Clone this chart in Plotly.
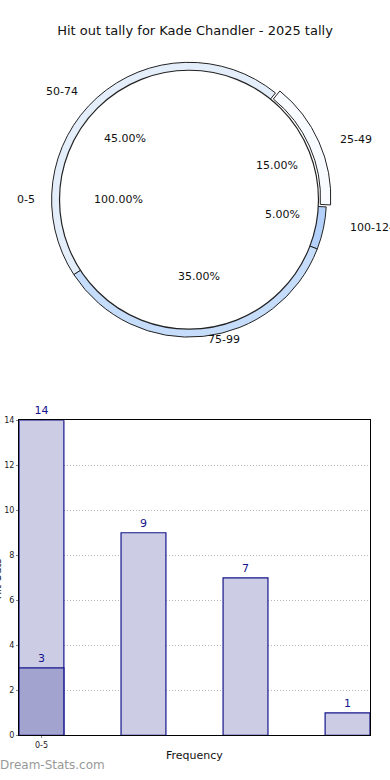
import math
import plotly.graph_objects as go

# ---------------- data ----------------
title = "Hit out tally for Kade Chandler - 2025 tally"
ring_labels = ["25-49", "100-124", "75-99", "50-74"]
ring_values = [3, 1, 7, 9]
ring_colors = ["#f8fbff", "#b3d1fb", "#c5dcfb", "#e4edfa"]
inner_labels = ["0-5"]
inner_values = [1]

bar_cats = ["0-5", "50-74", "75-99", "100-124"]
bar_values = [14, 9, 7, 1]
overlay_values = [3, None, None, None]
tick_labels = ["0-5"]

W, H = 390, 780
CX, CY, R, R_IN = 189, 198, 139, 131
LY = 196  # vertical centre used for the ring's text labels
ROT = 39
PULL = 0.035


def px(x):
    return x / W


def py(y):
    return 1 - y / H


fig = go.Figure()

# shadow
fig.add_trace(go.Pie(
    values=[1], labels=["shadow"], marker=dict(colors=["#9a9a9a"], line=dict(width=0)),
    textinfo="none", hoverinfo="skip", sort=False, showlegend=False,
    domain=dict(x=[px(CX - R_IN - 2), px(CX + R_IN - 2)], y=[py(CY + R_IN + 3), py(CY - R_IN + 3)]),
))

# outer ring
RD = R * (1 + PULL)
fig.add_trace(go.Pie(
    values=ring_values, labels=ring_labels, hole=0.925, sort=False, direction="clockwise",
    rotation=ROT, pull=[PULL, 0, 0, 0],
    marker=dict(colors=ring_colors, line=dict(color="#222222", width=1)),
    textinfo="none", hoverinfo="label+percent", showlegend=False,
    domain=dict(x=[px(CX - RD), px(CX + RD)], y=[py(CY + RD), py(CY - RD)]),
))

# inner pie
fig.add_trace(go.Pie(
    values=inner_values, labels=inner_labels, sort=False,
    marker=dict(colors=["#ffffff"], line=dict(color="#222222", width=1.2)),
    textinfo="none", hoverinfo="label+percent", showlegend=False,
    domain=dict(x=[px(CX - R_IN), px(CX + R_IN)], y=[py(CY + R_IN), py(CY - R_IN)]),
))

annotations = []
font = dict(family="DejaVu Sans", size=11, color="#111111")


def ann(x, y, text, xanchor="center", **kw):
    d = dict(x=px(x), y=py(y), xref="paper", yref="paper", text=text, showarrow=False,
             xanchor=xanchor, yanchor="middle", font=kw.pop("font", font))
    d.update(kw)
    annotations.append(d)


total = sum(ring_values)
cum = 0
for lab, v in zip(ring_labels, ring_values):
    th = math.radians(ROT + 360 * (cum + v / 2) / total)
    cum += v
    s, c = math.sin(th), math.cos(th)
    ann(CX + 0.69 * R * s, LY - 0.58 * R * c, f"{100 * v / total:.2f}%")
    ann(CX + 1.17 * R * s, LY - 1.04 * R * c, lab, xanchor="left" if s > 0 else "right")

itot = sum(inner_values)
for lab, v in zip(inner_labels, inner_values):
    th = math.radians(270)
    s, c = math.sin(th), math.cos(th)
    ann(CX + 0.54 * R_IN * s, CY - 0.54 * R_IN * c, f"{100 * v / itot:.2f}%")
    ann(CX + 1.16 * R_IN * s, CY - 1.16 * R_IN * c, lab, xanchor="right")

# ---------------- bar chart ----------------
xs = list(range(len(bar_cats)))
bar_fill = "rgb(204,204,228)"
bar_line = "#14148c"
fig.add_trace(go.Bar(
    x=xs, y=bar_values, width=0.44, marker=dict(color=bar_fill, line=dict(color=bar_line, width=1.2)),
    text=[str(v) for v in bar_values], textposition="outside", cliponaxis=False,
    textfont=dict(family="DejaVu Sans", size=11, color="#14148c"),
    hovertext=bar_cats, showlegend=False, xaxis="x", yaxis="y",
))
fig.add_trace(go.Bar(
    x=xs, y=overlay_values, width=0.44,
    marker=dict(color="rgb(163,163,208)", line=dict(color=bar_line, width=1.2)),
    text=[str(v) if v is not None else "" for v in overlay_values], textposition="outside",
    cliponaxis=False, textfont=dict(family="DejaVu Sans", size=11, color="#14148c"),
    hovertext=bar_cats, showlegend=False, xaxis="x", yaxis="y",
))

ann(194, 760, "Frequency", font=dict(family="DejaVu Sans", size=11, color="#111111"))
ann(-3, 582, "Hit Outs", textangle=-90, font=dict(family="DejaVu Sans", size=10, color="#111111"))
ann(-2, 770, "Dream-Stats.com", xanchor="left",
    font=dict(family="DejaVu Sans", size=12, color="#999999"))

fig.update_layout(
    width=W, height=H, margin=dict(l=0, r=0, t=0, b=0),
    paper_bgcolor="white", plot_bgcolor="white", barmode="overlay",
    title=dict(text=title, x=px(195), xanchor="center", y=py(30), yanchor="middle",
               font=dict(family="DejaVu Sans", size=13, color="#111111")),
    annotations=annotations,
    xaxis=dict(domain=[px(19), px(370)], range=[-0.22, 3.22], tickvals=[0], ticktext=tick_labels,
               showgrid=True, gridcolor="#b5b5b5", griddash="1px,2px", gridwidth=1,
               showline=True, linecolor="black", linewidth=1, mirror=True, zeroline=False,
               ticks="outside", ticklen=2, tickcolor="#888888",
               tickfont=dict(family="DejaVu Sans", size=8, color="#222222")),
    yaxis=dict(domain=[py(740), py(421)], range=[0, 14], dtick=2,
               showgrid=True, gridcolor="#b5b5b5", griddash="1px,2px", gridwidth=1,
               showline=True, linecolor="black", linewidth=1, mirror=True, zeroline=False,
               ticks="outside", ticklen=2, tickcolor="#888888",
               tickfont=dict(family="DejaVu Sans", size=8, color="#222222")),
)

fig.write_html("out.html", config={"displayModeBar": False},
               post_script="document.body.style.margin='0';")
